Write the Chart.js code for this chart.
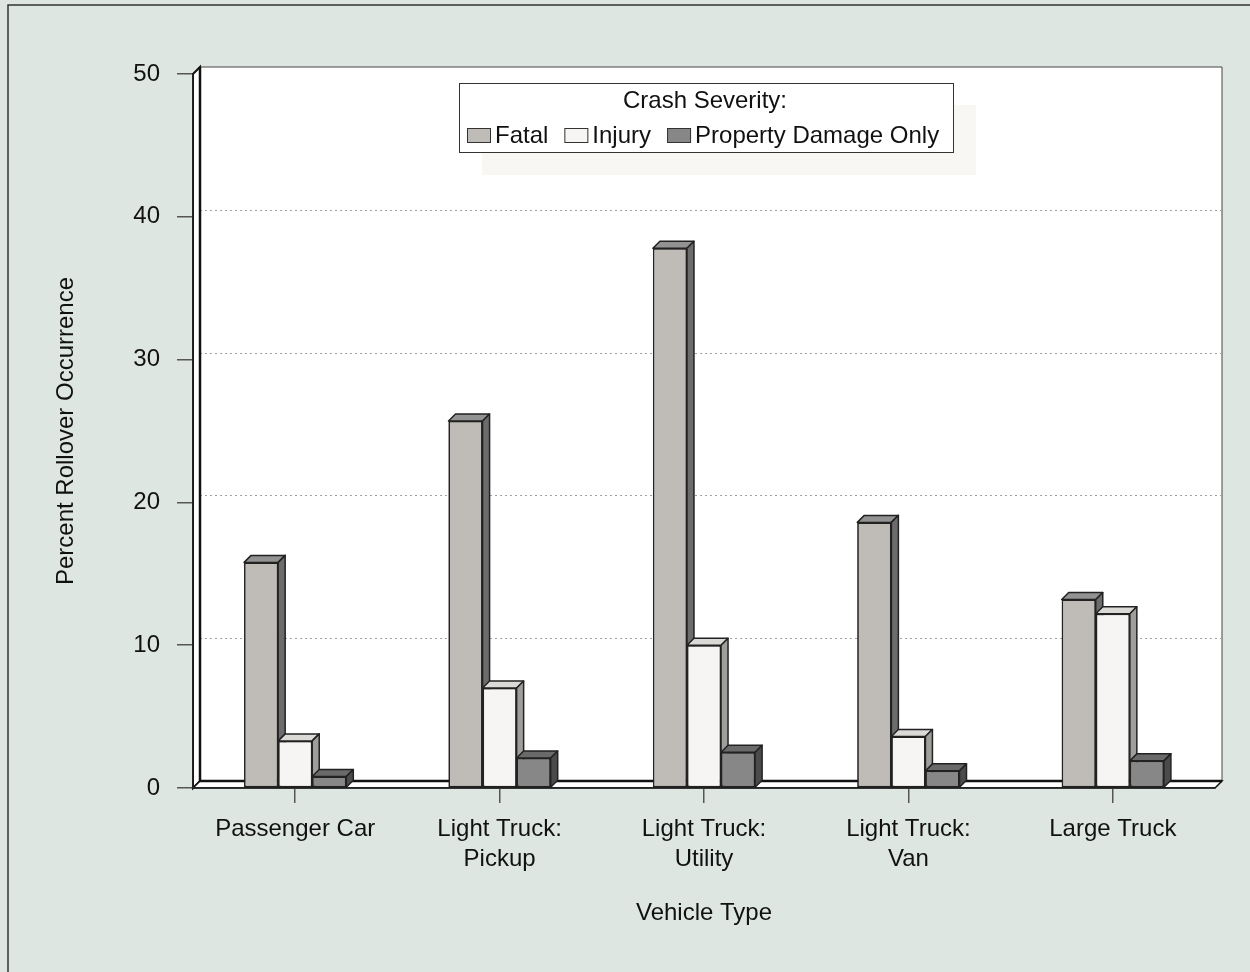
<!DOCTYPE html>
<html>
<head>
<meta charset="utf-8">
<title>Percent Rollover Occurrence by Vehicle Type</title>
<script src="https://cdn.jsdelivr.net/npm/chart.js@4/dist/chart.umd.min.js"></script>
<style>
    body { margin: 0; background: #dee6e2; }
    #wrap { width: 1250px; height: 972px; }
</style>
</head>
<body>
<div id="wrap"><canvas id="rolloverChart" width="1250" height="972"></canvas></div>
<script>
// data
const vehicleTypes = ['Passenger Car', ['Light Truck:', 'Pickup'], ['Light Truck:', 'Utility'], ['Light Truck:', 'Van'], 'Large Truck'];
const fatalPct = [15.8, 25.7, 37.8, 18.6, 13.2];
const injuryPct = [3.3, 7.0, 10.0, 3.6, 12.2];
const propertyPct = [0.8, 2.1, 2.5, 1.2, 1.9];
const yTicks = [0, 10, 20, 30, 40, 50];

const DEPTH = 7;
const FONT = '"Liberation Sans", Arial, sans-serif';

// front / top / side shades per series
const shades = [
    { front: '#bfbbb7', top: '#929292', side: '#6c6c6c' },
    { front: '#f6f5f3', top: '#dcdad7', side: '#a09e9b' },
    { front: '#878787', top: '#6a6a6a', side: '#4b4b4b' }
];

Chart.defaults.font.family = FONT;
Chart.defaults.font.size = 24;
Chart.defaults.color = '#111';

function poly(ctx, pts, fill) {
    ctx.beginPath();
    ctx.moveTo(pts[0][0], pts[0][1]);
    for (let i = 1; i < pts.length; i++) ctx.lineTo(pts[i][0], pts[i][1]);
    ctx.closePath();
    ctx.fillStyle = fill;
    ctx.fill();
    ctx.stroke();
}

// background, walls, floor and dotted grid on the back wall
const boxPlugin = {
    id: 'box3d',
    beforeDraw(chart) {
        const ctx = chart.ctx;
        const a = chart.chartArea;
        const y = chart.scales.y;
        const d = DEPTH;
        ctx.save();
        ctx.fillStyle = '#dee6e2';
        ctx.fillRect(0, 0, chart.width, chart.height);

        // outer frame (top + left)
        ctx.strokeStyle = '#333';
        ctx.lineWidth = 1.5;
        ctx.beginPath();
        ctx.moveTo(8, 972);
        ctx.lineTo(8, 5);
        ctx.lineTo(1250, 5);
        ctx.stroke();

        // back wall
        ctx.fillStyle = '#ffffff';
        ctx.fillRect(a.left + d, a.top - d, a.right - a.left, a.bottom - a.top);
        ctx.lineWidth = 1;
        ctx.strokeStyle = '#444';
        ctx.beginPath();
        ctx.moveTo(a.left + d, a.top - d);
        ctx.lineTo(a.right + d, a.top - d);
        ctx.lineTo(a.right + d, a.bottom - d);
        ctx.stroke();

        // grid lines on back wall
        ctx.strokeStyle = '#a0a0a0';
        ctx.setLineDash([2, 3]);
        yTicks.slice(1, -1).forEach(v => {
            const py = Math.round(y.getPixelForValue(v) - d) + 0.5;
            ctx.beginPath();
            ctx.moveTo(a.left + d, py);
            ctx.lineTo(a.right + d, py);
            ctx.stroke();
        });
        ctx.setLineDash([]);

        // left wall and floor
        ctx.strokeStyle = '#111';
        ctx.lineWidth = 2;
        poly(ctx, [[a.left, a.bottom], [a.left, a.top], [a.left + d, a.top - d], [a.left + d, a.bottom - d]], '#ffffff');
        ctx.lineWidth = 1.5;
        poly(ctx, [[a.left, a.bottom], [a.right, a.bottom], [a.right + d, a.bottom - d], [a.left + d, a.bottom - d]], '#ffffff');
        ctx.lineWidth = 2.5;
        ctx.beginPath();
        ctx.moveTo(a.left + d, a.top - d);
        ctx.lineTo(a.left + d, a.bottom - d);
        ctx.lineTo(a.right + d, a.bottom - d);
        ctx.stroke();
        ctx.restore();
    },
    afterDatasetsDraw(chart) {
        // redraw bars left to right and add top + side faces
        const ctx = chart.ctx;
        const d = DEPTH;
        ctx.save();
        ctx.lineJoin = 'round';
        chart.data.datasets.forEach((ds, i) => {
            const meta = chart.getDatasetMeta(i);
            meta.data.forEach(bar => {
                const p = bar.getProps(['x', 'y', 'base', 'width'], true);
                const L = p.x - p.width / 2;
                const R = p.x + p.width / 2;
                bar.draw(ctx);
                ctx.strokeStyle = '#222';
                ctx.lineWidth = 1.5;
                poly(ctx, [[L, p.y], [R, p.y], [R + d, p.y - d], [L + d, p.y - d]], shades[i].top);
                poly(ctx, [[R, p.y], [R + d, p.y - d], [R + d, p.base - d], [R, p.base]], shades[i].side);
            });
        });
        ctx.restore();
    },
    afterDraw(chart) {
        // legend box with shadow
        const ctx = chart.ctx;
        ctx.save();
        ctx.fillStyle = '#f8f7f4';
        ctx.fillRect(482, 105, 494, 70);
        ctx.fillStyle = '#ffffff';
        ctx.fillRect(459, 83, 494, 69);
        ctx.strokeStyle = '#333';
        ctx.lineWidth = 1;
        ctx.strokeRect(459.5, 83.5, 494, 69);

        ctx.font = '24px ' + FONT;
        ctx.fillStyle = '#111';
        ctx.textAlign = 'center';
        ctx.textBaseline = 'middle';
        ctx.fillText('Crash Severity:', 705, 101);

        ctx.textAlign = 'left';
        let x = 467;
        chart.data.datasets.forEach((ds, i) => {
            ctx.fillStyle = shades[i].front;
            ctx.fillRect(x, 128, 24, 15);
            ctx.strokeStyle = '#333';
            ctx.lineWidth = 1;
            ctx.strokeRect(x + 0.5, 128.5, 23, 14);
            ctx.fillStyle = '#111';
            ctx.fillText(ds.label, x + 28, 136);
            x += 28 + ctx.measureText(ds.label).width + 16;
        });
        ctx.restore();
    }
};

const rolloverCtx = document.getElementById('rolloverChart').getContext('2d');

const rolloverChart = new Chart(rolloverCtx, {
    type: 'bar',
    data: {
        labels: vehicleTypes,
        datasets: [
            { label: 'Fatal', data: fatalPct },
            { label: 'Injury', data: injuryPct },
            { label: 'Property Damage Only', data: propertyPct }
        ].map((ds, i) => Object.assign(ds, {
            backgroundColor: shades[i].front,
            borderColor: '#222',
            borderWidth: 1.5,
            borderSkipped: false,
            categoryPercentage: 0.5,
            barPercentage: 1.0
        }))
    },
    plugins: [boxPlugin],
    options: {
        responsive: false,
        animation: false,
        devicePixelRatio: 1,
        layout: {
            padding: { left: 48, top: 74, right: 35, bottom: 40 }
        },
        plugins: {
            legend: { display: false },
            tooltip: { enabled: false }
        },
        scales: {
            x: {
                afterFit: function(scale) { scale.height = 144; },
                grid: {
                    offset: false,
                    drawOnChartArea: false,
                    tickLength: 15,
                    tickColor: '#555',
                    lineWidth: 1.5
                },
                border: { color: '#222', width: 1.5 },
                ticks: {
                    padding: 11,
                    maxRotation: 0,
                    autoSkip: false,
                    color: '#111',
                    font: { size: 24, lineHeight: 1.25 }
                },
                title: {
                    display: true,
                    text: 'Vehicle Type',
                    color: '#111',
                    font: { size: 24, lineHeight: 1.2 }
                }
            },
            y: {
                min: 0,
                max: 50,
                afterFit: function(scale) { scale.width = 145; },
                grid: {
                    drawOnChartArea: false,
                    tickLength: 16,
                    tickColor: '#555',
                    lineWidth: 1.5
                },
                border: { color: '#222', width: 1.5 },
                ticks: {
                    stepSize: 10,
                    padding: 17,
                    color: '#111',
                    font: { size: 24 }
                },
                title: {
                    display: true,
                    text: 'Percent Rollover Occurrence',
                    color: '#111',
                    font: { size: 24, lineHeight: 1.2 }
                }
            }
        }
    }
});
</script>
</body>
</html>
